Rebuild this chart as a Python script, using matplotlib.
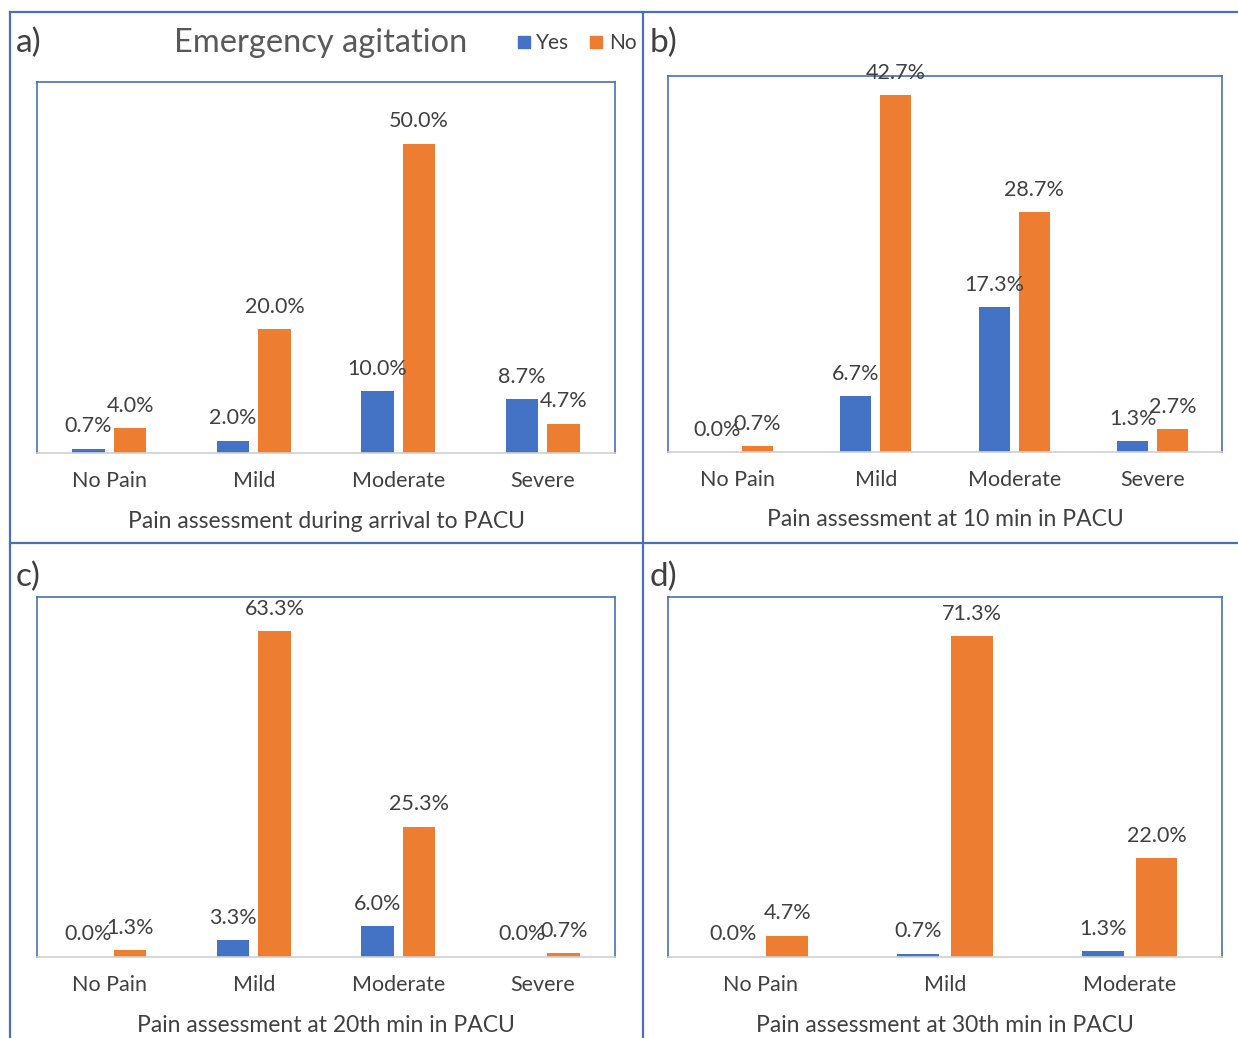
import numpy as np
import matplotlib
matplotlib.use("Agg")
import matplotlib.pyplot as plt
from matplotlib.lines import Line2D

# ---- data (percent of patients) ----
cats4 = ["No Pain", "Mild", "Moderate", "Severe"]
cats3 = ["No Pain", "Mild", "Moderate"]

arrival_yes = [0.7, 2.0, 10.0, 8.7]
arrival_no = [4.0, 20.0, 50.0, 4.7]

min10_yes = [0.0, 6.7, 17.3, 1.3]
min10_no = [0.7, 42.7, 28.7, 2.7]

min20_yes = [0.0, 3.3, 6.0, 0.0]
min20_no = [1.3, 63.3, 25.3, 0.7]

min30_yes = [0.0, 0.7, 1.3]
min30_no = [4.7, 71.3, 22.0]

BLUE = "#4472C4"
ORANGE = "#ED7D31"
FRAME = "#4A6FB5"
TXT = "#404040"

plt.rcParams["font.family"] = ["Lato", "DejaVu Sans"]

W, H = 1238, 1038
fig = plt.figure(figsize=(W / 100, H / 100), dpi=100)
fig.patch.set_facecolor("white")


def px(x0, y0, x1, y1):
    # pixel box (top-left origin) -> figure fraction rect
    return [x0 / W, 1 - y1 / H, (x1 - x0) / W, (y1 - y0) / H]


def panel(rect, cats, yes, no, ymax, xlabel):
    ax = fig.add_axes(rect)
    x = np.arange(len(cats))
    off, bw = 0.145, 0.225
    b1 = ax.bar(x - off, yes, bw, color=BLUE)
    b2 = ax.bar(x + off, no, bw, color=ORANGE)
    for bars, vals in ((b1, yes), (b2, no)):
        for b, v in zip(bars, vals):
            ax.annotate(f"{v:.1f}%", (b.get_x() + b.get_width() / 2, v),
                        xytext=(0, 9), textcoords="offset points",
                        ha="center", va="bottom", fontsize=15.5, color=TXT)
    ax.set_xlim(-0.5, len(cats) - 0.5)
    ax.set_ylim(0, ymax)
    ax.set_yticks([])
    ax.set_xticks(x)
    ax.set_xticklabels(cats, fontsize=15.5, color=TXT)
    ax.tick_params(axis="x", length=0, pad=13)
    for s in ("left", "right", "top"):
        ax.spines[s].set_color(FRAME)
        ax.spines[s].set_linewidth(1.2)
    ax.spines["bottom"].set_color("#D0D0D0")
    ax.spines["bottom"].set_linewidth(1.2)
    ax.set_xlabel(xlabel, fontsize=16.5, color=TXT, labelpad=14)
    return ax


panel(px(37, 82, 615, 453), cats4, arrival_yes, arrival_no, 60,
      "Pain assessment during arrival to PACU")
panel(px(668, 76, 1222, 452), cats4, min10_yes, min10_no, 45,
      "Pain assessment at 10 min in PACU")
panel(px(37, 597, 615, 957), cats4, min20_yes, min20_no, 70,
      "Pain assessment at 20th min in PACU")
panel(px(668, 597, 1222, 957), cats3, min30_yes, min30_no, 80,
      "Pain assessment at 30th min in PACU")

# panel frames
for (xa, ya, xb, yb) in [(10, 12, 1238, 12), (10, 543, 1238, 543),
                         (10, 12, 10, 1038), (643, 12, 643, 1038)]:
    fig.add_artist(Line2D([xa / W, xb / W], [1 - ya / H, 1 - yb / H],
                          color=FRAME, lw=1.6))

# panel letters
for lab, xx, yy in [("a)", 16, 43), ("b)", 650, 43), ("c)", 16, 577), ("d)", 650, 577)]:
    fig.text(xx / W, 1 - yy / H, lab, fontsize=24, color=TXT, va="center")

fig.text(321 / W, 1 - 43 / H, "Emergency agitation", fontsize=23.5,
         color="#595959", ha="center", va="center")

handles = [Line2D([], [], marker="s", ls="", color=BLUE, markersize=8),
           Line2D([], [], marker="s", ls="", color=ORANGE, markersize=8)]
fig.legend(handles, ["Yes", "No"], loc="center", bbox_to_anchor=(576 / W, 1 - 43 / H),
           ncol=2, frameon=False, fontsize=15, handletextpad=0.2, columnspacing=0.9,
           labelcolor=TXT, handlelength=0.8)

fig.savefig("out.png", dpi=100)
